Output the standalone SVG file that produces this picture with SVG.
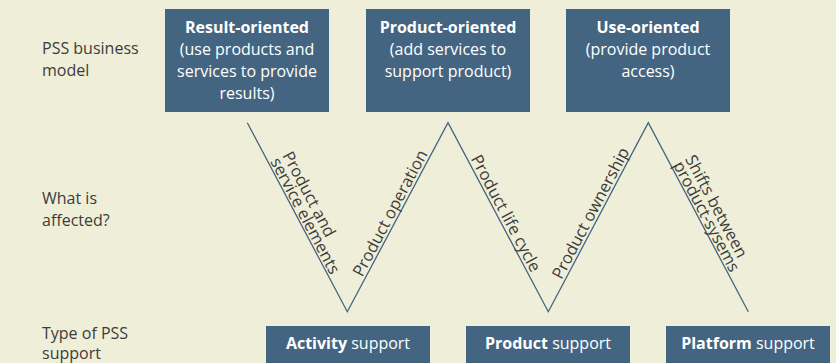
<svg xmlns="http://www.w3.org/2000/svg" width="836" height="363" viewBox="0 0 836 363">
<style>
  .bg { fill: #efeed8; }
  .box { fill: #446581; }
  .bt { font-family: "Open Sans", "Noto Sans", sans-serif; font-size: 16px; fill: #ffffff; text-anchor: middle; }
  .b { font-weight: bold; }
  .lbl { font-family: "Open Sans", "Noto Sans", sans-serif; font-size: 16px; fill: #3c3c3c; }
  .rl { font-family: "Open Sans", "Noto Sans", sans-serif; font-size: 16.5px; fill: #3c3c3c; }
  .conn { fill: none; stroke: #446581; stroke-width: 1.3; }
</style>
<rect class="bg" x="0" y="0" width="836" height="363"/>

<g id="row-labels">
  <text class="lbl" x="42" y="54">PSS business</text>
  <text class="lbl" x="42" y="76">model</text>
  <text class="lbl" x="42" y="204">What is</text>
  <text class="lbl" x="42" y="226">affected?</text>
  <text class="lbl" x="42" y="339">Type of PSS</text>
  <text class="lbl" x="42" y="359">support</text>
</g>

<g id="node-result">
  <rect class="box" x="165" y="9" width="164" height="103"/>
  <text class="bt b" x="247" y="33">Result-oriented</text>
  <text class="bt" x="247" y="55">(use products and</text>
  <text class="bt" x="247" y="77">services to provide</text>
  <text class="bt" x="247" y="99">results)</text>
</g>
<g id="node-product">
  <rect class="box" x="366" y="9" width="164" height="103"/>
  <text class="bt b" x="448" y="33">Product-oriented</text>
  <text class="bt" x="448" y="55">(add services to</text>
  <text class="bt" x="448" y="77">support product)</text>
</g>
<g id="node-use">
  <rect class="box" x="566" y="9" width="164" height="103"/>
  <text class="bt b" x="648" y="33">Use-oriented</text>
  <text class="bt" x="648" y="55">(provide product</text>
  <text class="bt" x="648" y="77">access)</text>
</g>

<g id="node-activity">
  <rect class="box" x="266" y="326" width="164" height="50"/>
  <text class="bt" x="348" y="349"><tspan class="b">Activity</tspan> support</text>
</g>
<g id="node-productsupport">
  <rect class="box" x="466" y="326" width="164" height="50"/>
  <text class="bt" x="548" y="349"><tspan class="b">Product</tspan> support</text>
</g>
<g id="node-platform">
  <rect class="box" x="666" y="326" width="164" height="50"/>
  <text class="bt" x="748" y="349"><tspan class="b">Platform</tspan> support</text>
</g>

<g id="connectors">
  <polyline class="conn" points="247.3,122.7 347.3,311.7 448,122.7 548.3,311.7 648.3,122.7 748.3,311.7"/>
  <g transform="translate(297.3,217.2) rotate(62.1)">
    <text class="rl" x="-62" y="-15.5">Product and</text>
    <text class="rl" x="-62" y="-2">service elements</text>
  </g>
  <g transform="translate(397.7,217.2) rotate(-62)">
    <text class="rl" x="0" y="-3" text-anchor="middle">Product operation</text>
  </g>
  <g transform="translate(498.2,217.2) rotate(62)">
    <text class="rl" x="0" y="-3" text-anchor="middle">Product life cycle</text>
  </g>
  <g transform="translate(598.3,217.2) rotate(-62.1)">
    <text class="rl" x="0" y="-3" text-anchor="middle">Product ownership</text>
  </g>
  <g transform="translate(698.3,217.2) rotate(62.1)">
    <text class="rl" x="-58" y="-15.5">Shifts between</text>
    <text class="rl" x="-58" y="-2">product-sysems</text>
  </g>
</g>
</svg>
